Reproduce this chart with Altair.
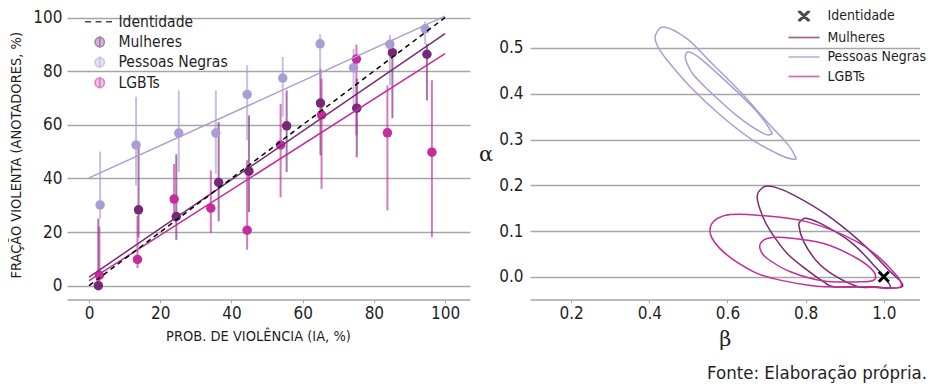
import altair as alt
import pandas as pd

FONT = "DejaVu Sans Condensed, Liberation Sans Narrow, sans-serif"
GREEK = "DejaVu Serif, serif"
TXT = "#1f1f1f"
GRID = "#a6a6a6"

SERIES = ["Identidade", "Mulheres", "Pessoas Negras", "LGBTs"]
GROUPS = ["Mulheres", "Pessoas Negras", "LGBTs"]
LINE_COLORS = ["#762a74", "#ab9dd4", "#c42d9c"]
POINT_FILLS = ["rgba(150,98,148,0.88)", "rgba(197,188,226,0.9)", "rgba(213,114,188,0.88)"]

# ---------------- left panel: binned points with error bars ----------------
mul_x = [2.6, 13.9, 24.5, 36.4, 44.9, 55.5, 65.0, 75.2, 85.2, 94.9]
mul_y = [0.0, 28.3, 25.8, 38.5, 42.7, 59.6, 68.1, 66.2, 86.9, 86.3]
mul_lo = [0.0, 18.0, 17.0, 24.0, 27.4, 42.4, 48.6, 47.9, 62.5, 69.1]
mul_hi = [25.0, 53.0, 49.0, 61.0, 63.5, 72.8, 80.9, 77.2, 91.5, 90.2]

pn_x = [3.1, 13.2, 25.2, 35.6, 44.4, 54.4, 64.9, 74.3, 84.5, 94.4]
pn_y = [30.1, 52.5, 56.9, 56.9, 71.3, 77.4, 90.2, 81.3, 90.0, 95.8]
pn_lo = [25.0, 37.4, 42.3, 41.7, 54.2, 63.0, 76.0, 66.0, 74.7, 90.0]
pn_hi = [50.0, 70.4, 72.8, 72.8, 82.2, 85.3, 93.7, 88.4, 93.4, 98.5]

lg_x = [2.9, 13.6, 23.9, 34.2, 44.4, 53.8, 65.3, 75.1, 83.8, 96.3]
lg_y = [3.9, 9.8, 32.3, 28.9, 20.7, 52.5, 63.7, 84.5, 57.0, 49.8]
lg_lo = [1.0, 6.5, 24.0, 19.7, 13.4, 33.0, 36.1, 56.0, 28.1, 18.1]
lg_hi = [22.0, 26.0, 45.4, 43.0, 46.8, 67.8, 77.2, 89.9, 74.7, 76.6]

# fitted lines (end points)
line_x = [0, 100]
ident_y = [0, 100]
mul_fit = [3.2, 94.0]
pn_fit = [40.2, 100.5]
lg_fit = [1.9, 86.5]

# ---------------- right panel: contours in (beta, alpha) ----------------
pn_outer = [(0.4157, 0.5277), (0.437, 0.546), (0.4969, 0.520), (0.5565, 0.4694), (0.6333, 0.4039),
            (0.7016, 0.3384), (0.7528, 0.2910), (0.774, 0.262), (0.7697, 0.257), (0.7356, 0.2657),
            (0.6589, 0.302), (0.5821, 0.353), (0.5053, 0.4148), (0.4457, 0.4731), (0.4201, 0.5059)]
pn_inner = [(0.4925, 0.4841), (0.501, 0.4913), (0.5309, 0.4766), (0.6161, 0.4111), (0.676, 0.3603),
            (0.71, 0.3203), (0.7118, 0.3116), (0.6929, 0.3129), (0.6333, 0.3456), (0.5649, 0.3967),
            (0.5138, 0.4404), (0.4951, 0.4694)]
mul_outer = [(0.676, 0.1747), (0.6929, 0.1965), (0.7185, 0.1965), (0.7697, 0.1784), (0.8552, 0.1347),
             (0.9404, 0.0764), (1.0087, 0.0181), (1.0471, -0.0218), (0.96, -0.0218), (0.872, -0.0218),
             (0.8465, -0.011), (0.804, 0.0146), (0.7528, 0.0509), (0.71, 0.0997), (0.6888, 0.1347)]
mul_inner = [(0.7826, 0.1129), (0.79, 0.124), (0.804, 0.1273), (0.8465, 0.1129), (0.9148, 0.0764),
             (0.9744, 0.0255), (1.0169, -0.0218), (0.975, -0.0218), (0.935, -0.0218), (0.872, 0.0037),
             (0.8296, 0.0328), (0.7953, 0.0764)]
lg_outer = [(0.5565, 0.1092), (0.5737, 0.127), (0.6077, 0.136), (0.676, 0.1347), (0.804, 0.12),
            (0.932, 0.0764), (1.0087, 0.0255), (1.0428, -0.0218), (0.945, -0.0218), (0.8465, -0.0218),
            (0.804, -0.018), (0.7185, -0.004), (0.6673, 0.0109), (0.5992, 0.0474), (0.5608, 0.0837)]
lg_inner = [(0.6845, 0.0728), (0.7016, 0.0837), (0.7441, 0.0859), (0.8465, 0.0728), (0.932, 0.04),
            (0.9745, 0.0109), (0.9745, -0.0073), (0.9404, -0.011), (0.8465, -0.0094), (0.7612, 0.0109),
            (0.7016, 0.04), (0.6845, 0.0583)]
ident_beta = [1.0]
ident_alpha = [0.0]

# ---------------- data frames ----------------
pts = []
for s, xs, ys, los, his in [("Mulheres", mul_x, mul_y, mul_lo, mul_hi),
                            ("Pessoas Negras", pn_x, pn_y, pn_lo, pn_hi),
                            ("LGBTs", lg_x, lg_y, lg_lo, lg_hi)]:
    for a, b, c, d in zip(xs, ys, los, his):
        pts.append({"s": s, "x": a, "y": b, "lo": c, "hi": d})
pts = pd.DataFrame(pts)

fits = []
for s, ys in [("Mulheres", mul_fit), ("Pessoas Negras", pn_fit), ("LGBTs", lg_fit)]:
    for a, b in zip(line_x, ys):
        fits.append({"s": s, "x": a, "y": b})
fits = pd.DataFrame(fits)
ident = pd.DataFrame({"x": line_x, "y": ident_y})

cont = []
for s, cid, arr in [("Pessoas Negras", "pn_o", pn_outer), ("Pessoas Negras", "pn_i", pn_inner),
                    ("Mulheres", "m_o", mul_outer), ("Mulheres", "m_i", mul_inner),
                    ("LGBTs", "l_o", lg_outer), ("LGBTs", "l_i", lg_inner)]:
    for i, (b, a) in enumerate(arr):
        cont.append({"s": s, "cid": cid, "i": i, "beta": b, "alpha": a})
cont = pd.DataFrame(cont)
idpt = pd.DataFrame({"beta": ident_beta, "alpha": ident_alpha})

color_scale = alt.Scale(domain=GROUPS, range=LINE_COLORS)
fill_scale = alt.Scale(domain=GROUPS, range=POINT_FILLS)

# ---------------- left chart ----------------
xsL = alt.Scale(domain=[-6.2, 107], nice=False, zero=False)
ysL = alt.Scale(domain=[-5.15, 102.8], nice=False, zero=False)
axXL = alt.Axis(values=[0, 20, 40, 60, 80, 100], title="PROB. DE VIOLÊNCIA (IA, %)", grid=False,
                domain=True, domainColor=GRID, domainWidth=1.5, ticks=True, tickSize=3,
                tickColor=GRID, labelPadding=3, titlePadding=8, titleX=191)
axYL = alt.Axis(values=[0, 20, 40, 60, 80, 100], title="FRAÇÃO VIOLENTA (ANOTADORES, %)", grid=True,
                gridColor=GRID, gridWidth=1.4, domain=False, ticks=False, labelPadding=5,
                titlePadding=9)

rules = alt.Chart(pts).mark_rule(strokeWidth=2, opacity=0.65).encode(
    x=alt.X("x:Q", scale=xsL, axis=axXL),
    y=alt.Y("lo:Q", scale=ysL, axis=axYL),
    y2="hi:Q",
    color=alt.Color("s:N", scale=color_scale, legend=None),
)
points = alt.Chart(pts).mark_circle(size=90, opacity=1).encode(
    x=alt.X("x:Q", scale=xsL, axis=axXL),
    y=alt.Y("y:Q", scale=ysL, axis=axYL),
    color=alt.Color("s:N", scale=fill_scale, legend=None),
)
fitlines = alt.Chart(fits).mark_line(strokeWidth=1.5).encode(
    x=alt.X("x:Q", scale=xsL, axis=axXL),
    y=alt.Y("y:Q", scale=ysL, axis=axYL),
    color=alt.Color("s:N", scale=color_scale, legend=None),
    detail="s:N",
)
identline = alt.Chart(ident).mark_line(strokeWidth=1.5, strokeDash=[5, 4], color="black").encode(
    x=alt.X("x:Q", scale=xsL, axis=axXL),
    y=alt.Y("y:Q", scale=ysL, axis=axYL),
)

DASH = "M-2.45,0L-1.45,0M-0.7,0L0.3,0M1.05,0L2.05,0"
CIRC = "M0,-1.0L0,1.0M0.78,0A0.78,0.78 0 1 1 -0.78,0A0.78,0.78 0 1 1 0.78,0"
legL = alt.Legend(title=None, orient="none", legendX=25, legendY=4, symbolSize=144,
                  labelFont=FONT, labelFontSize=15.5, labelColor=TXT, labelOffset=11,
                  rowPadding=1.3, symbolStrokeWidth=1.6)
legend_left = alt.Chart(pts).transform_filter("false").mark_point(filled=True, strokeWidth=1.6).encode(
    shape=alt.Shape("s:N", scale=alt.Scale(domain=SERIES, range=[DASH, CIRC, CIRC, CIRC]), legend=legL),
    fill=alt.Fill("s:N", scale=alt.Scale(domain=SERIES, range=["black"] + POINT_FILLS), legend=legL),
    stroke=alt.Stroke("s:N", scale=alt.Scale(domain=SERIES, range=["black", "rgba(118,42,116,0.8)",
                                                                    "rgba(171,157,212,0.8)",
                                                                    "rgba(196,45,156,0.8)"]),
                      legend=legL),
)

left = alt.layer(rules, points, fitlines, identline, legend_left).properties(width=403, height=289.5)

# ---------------- right chart ----------------
xsR = alt.Scale(domain=[0.0946, 1.0914], nice=False, zero=False)
ysR = alt.Scale(domain=[-0.0496, 0.583], nice=False, zero=False)
axXR = alt.Axis(values=[0.2, 0.4, 0.6, 0.8, 1.0], format=".1f", title="β", grid=False,
                domain=True, domainColor=GRID, domainWidth=1.5, ticks=True, tickSize=3,
                tickColor=GRID, labelPadding=3, titlePadding=7, titleFont=GREEK, titleFontSize=21)
axYR = alt.Axis(values=[0.0, 0.1, 0.2, 0.3, 0.4, 0.5], format=".1f", title="α", grid=True,
                gridColor=GRID, gridWidth=1.4, domain=False, ticks=False, labelPadding=7,
                titlePadding=6, titleAngle=0, titleAlign="right", titleBaseline="middle",
                titleFont=GREEK, titleFontSize=21)

contours = alt.Chart(cont).mark_line(strokeWidth=1.5, interpolate="cardinal-closed").encode(
    x=alt.X("beta:Q", scale=xsR, axis=axXR),
    y=alt.Y("alpha:Q", scale=ysR, axis=axYR),
    color=alt.Color("s:N", scale=color_scale, legend=None),
    detail="cid:N",
    order="i:Q",
)
XPATH = "M-1,-1L1,1M1,-1L-1,1"
idmark = alt.Chart(idpt).mark_point(shape=XPATH, filled=False, size=100, stroke="black",
                                    strokeWidth=3, opacity=1).encode(
    x=alt.X("beta:Q", scale=xsR, axis=axXR),
    y=alt.Y("alpha:Q", scale=ysR, axis=axYR),
)

XLEG = ("M-0.98,-0.83L0.68,0.83M-0.83,-0.83L0.83,0.83M-0.68,-0.83L0.98,0.83"
        "M0.68,-0.83L-0.98,0.83M0.83,-0.83L-0.83,0.83M0.98,-0.83L-0.68,0.83")
LLEG = "M-2.58,0L2.58,0"
legR = alt.Legend(title=None, orient="none", legendX=267, legendY=-1, symbolSize=144,
                  labelFont=FONT, labelFontSize=14, labelColor=TXT, labelOffset=16.5,
                  rowPadding=5.5, symbolStrokeWidth=1.8)
legend_right = alt.Chart(cont).transform_filter("false").mark_point(filled=False, strokeWidth=1.8).encode(
    shape=alt.Shape("s:N", scale=alt.Scale(domain=SERIES, range=[XLEG, LLEG, LLEG, LLEG]), legend=legR),
    stroke=alt.Stroke("s:N", scale=alt.Scale(domain=SERIES, range=["black"] + LINE_COLORS), legend=legR),
)

right = alt.layer(contours, idmark, legend_right).properties(width=389.5, height=289.5)

chart = alt.hconcat(left, right, spacing=8).resolve_scale(
    x="independent", y="independent", color="independent", shape="independent",
    fill="independent", stroke="independent"
).properties(
    padding=0,
    title=alt.TitleParams("Fonte: Elaboração própria.", orient="bottom", anchor="end",
                          font=FONT, fontSize=18.5, fontWeight="normal", color=TXT, offset=14),
).configure_axis(
    labelFont=FONT, labelFontSize=17, labelColor=TXT,
    titleFont=FONT, titleFontSize=14.5, titleFontWeight="normal", titleColor=TXT,
).configure_view(stroke=None)

chart.save("out.html", embed_options={"renderer": "svg", "actions": False})
